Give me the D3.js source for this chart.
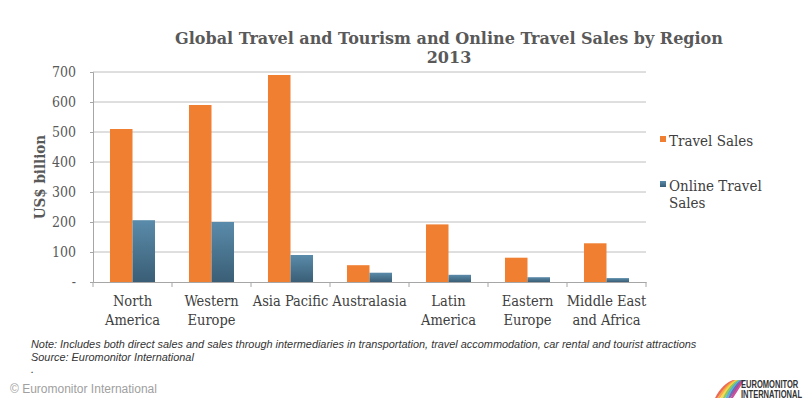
<!DOCTYPE html>
<html>
<head>
<meta charset="utf-8">
<script src="https://cdn.jsdelivr.net/npm/d3@7"></script>
<style>
  body { margin: 0; background: #fff; }
  svg text { font-family: "DejaVu Serif Condensed", "DejaVu Serif", Georgia, serif; }
</style>
</head>
<body>
<div id="chart"></div>
<script>
// data
var regions = ["North America", "Western Europe", "Asia Pacific", "Australasia", "Latin America", "Eastern Europe", "Middle East and Africa"];
var regionLines = [["North", "America"], ["Western", "Europe"], ["Asia Pacific"], ["Australasia"], ["Latin", "America"], ["Eastern", "Europe"], ["Middle East", "and Africa"]];
var travelSales = [510, 590, 690, 56, 192, 81, 129];
var onlineSales = [206, 200, 90, 31, 24, 16, 13];
var seriesNames = ["Travel Sales", "Online Travel Sales"];
var yTicks = [0, 100, 200, 300, 400, 500, 600, 700];

var width = 806, height = 412;
var margin = ({top: 72, right: 160, bottom: 130, left: 93});
var plotW = width - margin.left - margin.right;   // 553
var plotH = height - margin.top - margin.bottom;  // 210

var svg = d3.select("#chart").append("svg")
    .attr("width", width)
    .attr("height", height);

var defs = svg.append("defs");
var grad = defs.append("linearGradient")
    .attr("id", "blueGrad")
    .attr("x1", 0).attr("y1", 0).attr("x2", 0).attr("y2", 1);
grad.append("stop").attr("offset", "0%").attr("stop-color", "#5A8BAA");
grad.append("stop").attr("offset", "100%").attr("stop-color", "#3A5E76");

var x0 = d3.scaleBand()
    .domain(regions)
    .range([0, plotW])
    .paddingInner(0)
    .paddingOuter(0);

var x1 = d3.scaleBand()
    .domain(seriesNames)
    .range([x0.bandwidth() * 0.215, x0.bandwidth() * 0.785]);

var y = d3.scaleLinear()
    .domain([0, 700])
    .range([plotH, 0]);

var g = svg.append("g")
    .attr("transform", `translate(${margin.left}, ${margin.top})`);

// gridlines
g.selectAll(".grid")
  .data(yTicks.slice(1))
  .join("line")
    .attr("class", "grid")
    .attr("x1", 0)
    .attr("x2", plotW)
    .attr("y1", d => y(d))
    .attr("y2", d => y(d))
    .attr("stroke", "#BEBEBE")
    .attr("stroke-width", 1);

// bars
var groups = g.selectAll(".grp")
  .data(regions)
  .join("g")
    .attr("class", "grp")
    .attr("transform", d => `translate(${x0(d)},0)`);

groups.append("rect")
    .attr("x", x1("Travel Sales"))
    .attr("width", x1.bandwidth())
    .attr("y", (d, i) => y(travelSales[i]))
    .attr("height", (d, i) => plotH - y(travelSales[i]))
    .attr("fill", "#F07F31");

groups.append("rect")
    .attr("x", x1("Online Travel Sales"))
    .attr("width", x1.bandwidth())
    .attr("y", (d, i) => y(onlineSales[i]))
    .attr("height", (d, i) => plotH - y(onlineSales[i]))
    .attr("fill", "url(#blueGrad)");

// y axis
var yAxis = g.append("g")
    .call(d3.axisLeft(y).tickValues(yTicks).tickSize(3).tickPadding(14)
      .tickFormat(d => d === 0 ? "-" : d));
yAxis.select(".domain").attr("stroke", "#A6A6A6");
yAxis.selectAll(".tick line").attr("stroke", "#A6A6A6");
yAxis.selectAll(".tick text")
    .attr("fill", "#595959")
    .style("font-size", "14px")
    .style("font-family", null);

// x axis
var xAxis = g.append("g")
    .attr("transform", `translate(0,${plotH})`)
    .call(d3.axisBottom(x0).tickSize(0).tickFormat(""));
xAxis.select(".domain").attr("stroke", "#A6A6A6");

// tick marks between categories
g.selectAll(".xtick")
  .data(d3.range(regions.length + 1))
  .join("line")
    .attr("class", "xtick")
    .attr("x1", i => i * x0.step())
    .attr("x2", i => i * x0.step())
    .attr("y1", plotH)
    .attr("y2", plotH + 5)
    .attr("stroke", "#A6A6A6");

// category labels
var labels = g.selectAll(".cat")
  .data(regions)
  .join("text")
    .attr("class", "cat")
    .attr("x", d => x0(d) + x0.bandwidth() / 2)
    .attr("y", plotH + 24)
    .attr("text-anchor", "middle")
    .attr("fill", "#404040")
    .style("font-size", "14.5px");
labels.selectAll("tspan")
  .data((d, i) => regionLines[i])
  .join("tspan")
    .attr("x", function() { return this.parentNode.getAttribute("x"); })
    .attr("dy", (d, i) => i === 0 ? 0 : 19)
    .text(d => d);

// title
svg.append("text")
    .attr("x", 449)
    .attr("y", 44)
    .attr("text-anchor", "middle")
    .attr("font-weight", "bold")
    .attr("fill", "#595959")
    .style("font-family", "DejaVu Serif, serif")
    .style("font-size", "16px")
    .text("Global Travel and Tourism and Online Travel Sales by Region");
svg.append("text")
    .attr("x", 449)
    .attr("y", 63)
    .attr("text-anchor", "middle")
    .attr("font-weight", "bold")
    .attr("fill", "#595959")
    .style("font-family", "DejaVu Serif, serif")
    .style("font-size", "16px")
    .text("2013");

// y label
svg.append("text")
    .attr("transform", "translate(45,177) rotate(-90)")
    .attr("text-anchor", "middle")
    .attr("font-weight", "bold")
    .attr("fill", "#595959")
    .style("font-size", "15px")
    .text("US$ billion");

// legend
var legend = svg.append("g").attr("transform", "translate(660,0)");
legend.append("rect").attr("x", 0).attr("y", 136).attr("width", 6).attr("height", 6).attr("fill", "#F07F31");
legend.append("text").attr("x", 9).attr("y", 146).attr("fill", "#404040").style("font-size", "15px").text("Travel Sales");
legend.append("rect").attr("x", 0).attr("y", 181).attr("width", 6).attr("height", 6).attr("fill", "url(#blueGrad)");
legend.append("text").attr("x", 9).attr("y", 191).attr("fill", "#404040").style("font-size", "15px").text("Online Travel");
legend.append("text").attr("x", 9).attr("y", 208).attr("fill", "#404040").style("font-size", "15px").text("Sales");

// notes
var sans = "Liberation Sans, Arial, sans-serif";
var note = svg.append("g")
    .style("font-style", "italic")
    .style("font-size", "10.9px");
note.append("text").attr("x", 31).attr("y", 348).attr("fill", "#333")
    .style("font-family", sans)
    .text("Note: Includes both direct sales and sales through intermediaries in transportation, travel accommodation, car rental and tourist attractions");
note.append("text").attr("x", 31).attr("y", 361).attr("fill", "#333")
    .style("font-family", sans)
    .text("Source: Euromonitor International");
note.append("text").attr("x", 31).attr("y", 373).attr("fill", "#333")
    .style("font-family", sans)
    .text(".");

svg.append("text")
    .attr("x", 10).attr("y", 393)
    .attr("fill", "#A0A0A0")
    .style("font-family", sans)
    .style("font-size", "12px")
    .text("\u00A9 Euromonitor International");

// logo
var logo = svg.append("g").attr("transform", "translate(715,380)");
var stripeCols = ["#E94E3C", "#F39C33", "#F5D33A", "#7DC04B", "#3AA6DD", "#6D4C9F", "#C2338D"];
logo.selectAll("path")
  .data(stripeCols)
  .join("path")
    .attr("d", (col, i) => "M" + (i * 2.6) + ",18 C" + (5 + i * 2.6) + ",8 " + (12 + i * 2.2) + ",2 " + (18 + i * 1.6) + ",0 L" + (20 + i * 1.6) + ",0 C" + (14 + i * 2.2) + ",3 " + (8 + i * 2.6) + ",10 " + (2.4 + i * 2.6) + ",18 Z")
    .attr("fill", col => col)
    .attr("opacity", 0.85);
var logoText = logo.append("g").attr("transform", "translate(26,0) scale(0.72,1)");
logoText.append("text").attr("x", 0).attr("y", 8).attr("fill", "#333")
    .style("font-family", sans)
    .style("font-size", "10.5px").attr("font-weight", "bold")
    .text("EUROMONITOR");
logoText.append("text").attr("x", 0).attr("y", 18).attr("fill", "#333")
    .style("font-family", sans)
    .style("font-size", "10.5px").attr("font-weight", "bold")
    .text("INTERNATIONAL");
</script>
</body>
</html>
